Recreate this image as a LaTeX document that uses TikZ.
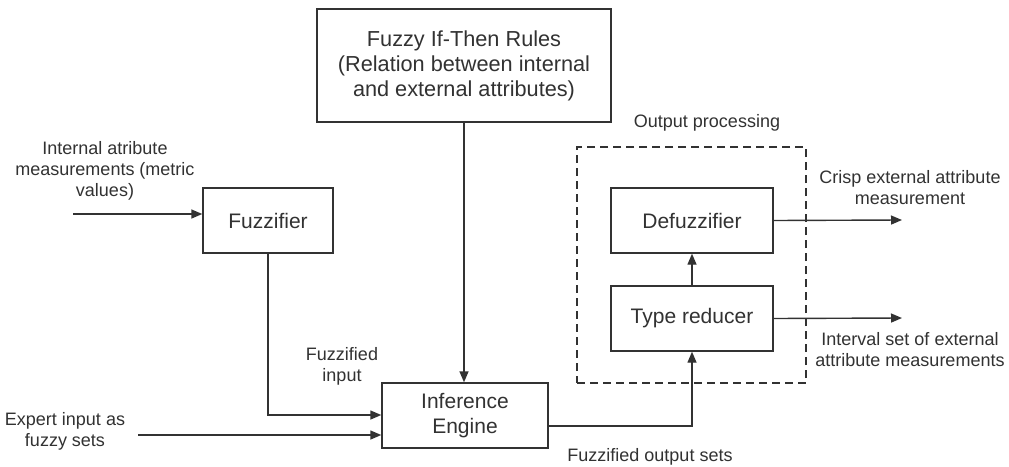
\documentclass[tikz,border=0pt]{standalone}
\usepackage{fontspec}
\setmainfont{Liberation Sans}
\usetikzlibrary{arrows.meta,calc}
\definecolor{ink}{RGB}{50,50,50}
\begin{document}
\begin{tikzpicture}[x=1pt,y=-1pt,
  line width=1.4pt, draw=ink, text=ink,
  box/.style={draw=ink, line width=1.4pt, inner sep=0pt, align=center, font=\fontsize{21}{25}\selectfont},
  lbl/.style={align=center, inner sep=0pt, font=\fontsize{18}{21}\selectfont},
  arr/.style={draw=ink, line width=1.4pt, -{Triangle[length=11pt,width=9pt]}}
]
\useasboundingbox[fill=white] (0,0) rectangle (1009,466);

\node[box, minimum width=294pt, minimum height=113pt, font=\fontsize{21.7}{25}\selectfont] (rules) at (464,65.5)
  {Fuzzy If-Then Rules\\(Relation between internal\\and external attributes)};
\node[box, minimum width=130pt, minimum height=65pt] (fuzz) at (268,220.5) {Fuzzifier};
\node[box, minimum width=166pt, minimum height=65pt] (inf) at (465,415.5) {Inference\\Engine};
\node[box, minimum width=162pt, minimum height=65pt] (defuz) at (692,220.5) {Defuzzifier};
\node[box, minimum width=162pt, minimum height=65pt] (tr) at (692,318.5) {Type reducer};
\node[draw=ink, dashed, dash pattern=on 8pt off 5pt, line width=1.4pt, minimum width=229pt, minimum height=236pt, inner sep=0pt] (op) at (691.5,265) {};

\node[lbl] (lint) at (105,171) {Internal atribute\\measurements (metric\\values)};
\node[lbl] (lexp) at (65,431.5) {Expert input as\\fuzzy sets};
\node[lbl] (lfin) at (342,366.5) {Fuzzified\\input};
\node[lbl] (lfos) at (650,457) {Fuzzified output sets};
\node[lbl] (lop) at (707,123) {Output processing};
\node[lbl] (lcrisp) at (910,187.5) {Crisp external attribute\\measurement};
\node[lbl] (lint2) at (910,349.5) {Interval set of external\\attribute measurements};

\coordinate (inA) at (73,214);
\coordinate (inB) at (138,435);
\coordinate (outA) at (902,220);
\coordinate (outB) at (902,318);

\draw[arr] (inA) -- (fuzz.west |- inA);
\draw[arr] (rules.south) -- (rules.south |- inf.north);
\draw[arr] (fuzz.south) |- ($(inf.west)+(0,-0.5)$);
\draw[arr] (inB) -- (inf.west |- inB);
\draw[arr] ($(inf.east)+(0,10.5)$) -| (tr.south);
\draw[arr] (tr.north) -- (defuz.south);
\draw[arr] (defuz.east) -- (outA);
\draw[arr] (tr.east) -- (outB);
\end{tikzpicture}
\end{document}
